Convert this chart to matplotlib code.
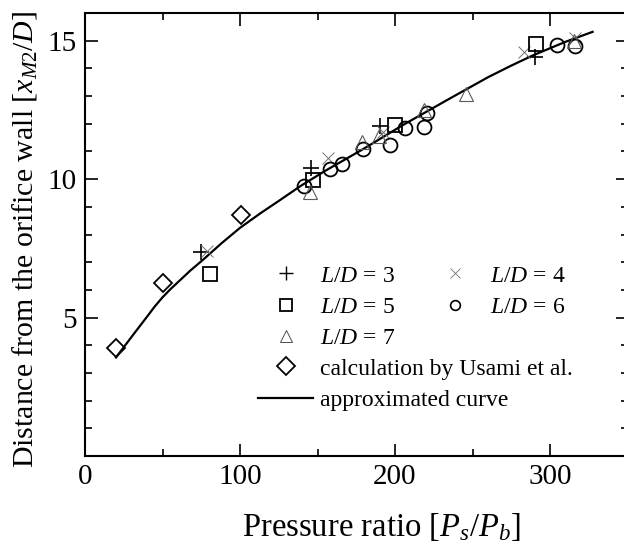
import numpy as np
import matplotlib
matplotlib.use("Agg")
import matplotlib.pyplot as plt
from matplotlib.lines import Line2D
from matplotlib.ticker import MultipleLocator

plt.rcParams['font.family'] = ['Liberation Serif', 'DejaVu Serif']
plt.rcParams['mathtext.fontset'] = 'custom'
plt.rcParams['mathtext.rm'] = 'Liberation Serif'
plt.rcParams['mathtext.it'] = 'Liberation Serif:italic'

# Data
ld3_x = [75, 145.5, 190, 290]
ld3_y = [7.35, 10.4, 11.93, 14.4]
ld4_x = [79, 157, 192, 283, 316]
ld4_y = [7.4, 10.75, 11.7, 14.6, 15.1]
ld5_x = [80.5, 147, 200, 291]
ld5_y = [6.56, 9.98, 11.94, 14.89]
ld6_x = [141, 158, 166, 179.5, 196.5, 206.5, 218.5, 220.5, 304.5, 316]
ld6_y = [9.75, 10.35, 10.55, 11.07, 11.24, 11.86, 11.88, 12.4, 14.83, 14.8]
ld7_x = [145, 178.6, 189.5, 218.5, 246, 315.5]
ld7_y = [9.55, 11.35, 11.56, 12.5, 13.07, 15.0]
usami_x = [20, 50, 100.6]
usami_y = [3.9, 6.25, 8.72]
curve_x = [20, 30, 40, 45, 50, 55, 60, 68, 76, 88, 100, 113, 126, 139, 155, 179, 205, 235,
           260, 275, 289, 310, 327.5]
curve_y = [3.56, 4.3, 5.03, 5.4, 5.73, 6.02, 6.28, 6.7, 7.08, 7.68, 8.24, 8.76, 9.25, 9.75,
           10.3, 11.07, 11.95, 12.9, 13.68, 14.1, 14.47, 14.96, 15.32]

fig = plt.figure(figsize=(6.24, 5.43), dpi=100)
ax = fig.add_axes([85 / 624, 87 / 543, 542.5 / 624, 443 / 543])

ax.plot(curve_x, curve_y, color='black', lw=1.6, zorder=2)
ax.plot(ld3_x, ld3_y, ls='none', marker='+', ms=11, mew=1.2, color='black')
ax.plot(ld4_x, ld4_y, ls='none', marker='x', ms=8, mew=0.7, color='0.45')
ax.plot(ld5_x, ld5_y, ls='none', marker='s', ms=9.5, mew=1.3, mfc='none', mec='black')
ax.plot(ld6_x, ld6_y, ls='none', marker='o', ms=10, mew=1.3, mfc='none', mec='black')
ax.plot(ld7_x, ld7_y, ls='none', marker='^', ms=10, mew=0.8, mfc='none', mec='0.35')
ax.plot(usami_x, usami_y, ls='none', marker='D', ms=9.5, mew=1.3, mfc='none', mec='black')

ax.set_xlim(0, 350)
ax.set_ylim(0, 16)
ax.xaxis.set_major_locator(MultipleLocator(100))
ax.xaxis.set_minor_locator(MultipleLocator(50))
ax.yaxis.set_major_locator(MultipleLocator(5))
ax.yaxis.set_minor_locator(MultipleLocator(1))
ax.set_yticks([5, 10, 15])
ax.tick_params(which='both', direction='in', top=True, right=True, labelsize=21, width=1.2)
ax.tick_params(which='major', length=9, pad=6)
ax.tick_params(which='minor', length=5)
for s in ax.spines.values():
    s.set_linewidth(1.5)

ax.set_xlabel('Pressure ratio [$P_s/P_b$]', fontsize=23.5)
ax.xaxis.set_label_coords((381 - 85) / 542.5, -0.125)
ax.set_ylabel('Distance from the orifice wall $[x_{M2}/D]$', fontsize=21.5)
ax.yaxis.set_label_coords(-0.084, 0.49)

h3 = Line2D([], [], ls='none', marker='+', ms=10, mew=1.0, color='black')
h4 = Line2D([], [], ls='none', marker='x', ms=7, mew=0.6, color='0.45')
h5 = Line2D([], [], ls='none', marker='s', ms=9, mew=1.3, mfc='none', mec='black')
h6 = Line2D([], [], ls='none', marker='o', ms=7, mew=1.2, mfc='none', mec='black')
h7 = Line2D([], [], ls='none', marker='^', ms=8, mew=0.7, mfc='none', mec='0.3')
hd = Line2D([], [], ls='none', marker='D', ms=9, mew=1.3, mfc='none', mec='black')
hc = Line2D([], [], color='black', lw=1.6)

common = dict(frameon=False, fontsize=17, handlelength=2.33, handletextpad=0.3,
              borderpad=0, borderaxespad=0, labelspacing=0.42, loc='upper left',
              bbox_transform=fig.transFigure)
leg1 = ax.legend([h3, h5, h7, h4, h6],
                 ['$L/D$ = 3', '$L/D$ = 5', '$L/D$ = 7', '$L/D$ = 4', '$L/D$ = 6'],
                 ncol=2, columnspacing=1.38,
                 bbox_to_anchor=(258 / 624, 1 - 265 / 543), **common)
ax.add_artist(leg1)
ax.legend([hd, hc], ['calculation by Usami et al.', 'approximated curve'],
          bbox_to_anchor=(258 / 624, 1 - 358 / 543), **common)

fig.savefig('out.png', dpi=100)
